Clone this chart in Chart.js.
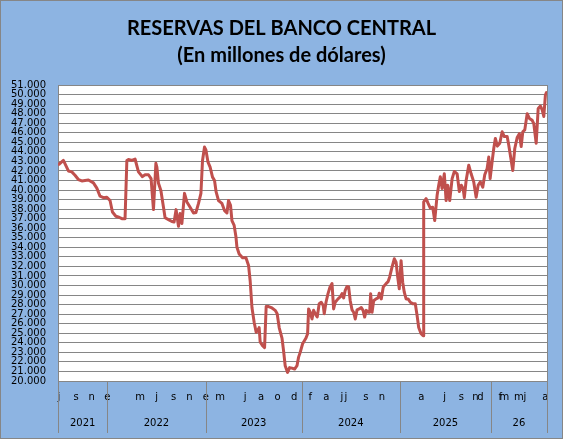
<!DOCTYPE html>
<html>
<head>
<meta charset="utf-8">
<script src="https://cdn.jsdelivr.net/npm/chart.js@4.4.1/dist/chart.umd.min.js"></script>
<style>
  html, body { margin: 0; padding: 0; background: #fff; }
  #wrap { width: 563px; height: 439px; }
</style>
</head>
<body>
<div id="wrap"><canvas id="reservas" width="563" height="439"></canvas></div>
<script>
'use strict';

// semana de observacion (eje de categorias de la planilla) y reservas en millones de USD
let semanas = [0, 0.5, 2.7, 5.2, 6.9, 8.5, 10.2, 11.9, 13.5, 15.2, 17.7, 19.4, 21, 22.7, 24.4, 26, 27.2, 28.9, 30.5, 31.9,
  33.5, 34.4, 35.2, 36.9, 38.5, 40.2, 42.2, 43.5, 45.2, 46.5, 47.7, 48.9, 49.4, 50.2, 51.4, 52.7, 53.5, 55.2, 56.9, 58,
  59, 60.2, 61, 61.9, 63.2, 64.4, 66, 67.7, 68.9, 70.2, 71.4, 72.2, 73.2, 73.9, 74.9, 76, 77.2, 78.2, 79, 80.2,
  81.9, 83.2, 84.4, 85.2, 86.2, 86.9, 88, 88.9, 89.4, 90.5, 92.2, 93.9, 95.2, 96, 96.9, 98, 99, 100.2, 100.5, 101,
  102.2, 103.2, 104, 105.2, 106.9, 108.5, 109.5, 110.5, 111.9, 112.7, 113.5, 114.7, 115.7, 116.9, 118.2, 119.4, 120.2, 121, 122.2, 123.9,
  124.7, 125.2, 126, 126.9, 127.7, 128.5, 129.5, 130.5, 131.5, 132.5, 133, 133.9, 134.9, 135.9, 136.9, 137.7, 138.5, 139.9, 141, 141.9,
  142.7, 143.5, 144.4, 145.2, 146, 146.9, 147.7, 148.5, 149.4, 150.5, 151.5, 152.4, 153.2, 154, 154.9, 155.7, 156.2, 156.9, 157.7, 158.9,
  159.9, 160.5, 161.5, 162.5, 163.9, 164.9, 165.7, 166.9, 168, 168.9, 169.7, 170.5, 171.4, 172.2, 173, 173.9, 174.9, 176, 177.2, 178.5,
  179.4, 180.2, 181.4, 182.4, 182.7, 183.9, 184.9, 186, 187.2, 188.2, 189.4, 190.2, 191, 191.9, 193, 193.9, 194.7, 195.7, 196.9, 198,
  199.4, 200.5, 201.5, 202.4, 203, 203.9, 205.2, 206.4, 207.7, 208.9, 209.9, 211, 212.2, 213.2, 214.4, 215.2, 215.9, 216.9, 217.7, 218.5,
  219.5, 220.7, 221.9, 223, 224.4, 225.2, 226, 227.2, 228.2, 229.4, 230.5, 231.4, 232.2, 233.2, 234.4, 235.5, 236.9, 237.7, 238.9, 239.9,
  241, 241.9, 242.7, 243.5, 244];
let reservas = [42700, 42700, 43100, 42000, 41900, 41550, 41100, 40950, 41000, 41050, 40750, 40200, 39350, 39200, 39250, 38900, 37700, 37250, 37150, 37000,
  37000, 43100, 43200, 43100, 43250, 41900, 41400, 41600, 41600, 41200, 37950, 42800, 42400, 40700, 39950, 38200, 37100, 36900, 36700, 36650,
  37950, 36200, 37550, 36500, 39650, 38750, 38200, 37600, 37650, 38600, 39650, 43100, 44500, 44200, 42950, 42400, 41350, 41000, 39800, 38900,
  38600, 37850, 37600, 38900, 38400, 36800, 36300, 35100, 34000, 33300, 32900, 32900, 32100, 30500, 27700, 26150, 25100, 25450, 25600, 24100,
  23700, 23500, 27800, 27800, 27650, 27400, 27050, 25600, 24500, 23150, 21600, 20900, 21400, 21350, 21250, 21600, 22500, 23000, 23900, 24500,
  24950, 27550, 27200, 26500, 27400, 27050, 26700, 28100, 28250, 27900, 27050, 28250, 29150, 29850, 30200, 27550, 28250, 28600, 28800, 29150,
  28700, 29500, 29900, 29850, 28400, 27450, 27200, 26500, 27450, 27550, 27700, 27400, 26700, 27400, 27200, 27200, 29150, 27200, 28400, 28600,
  28700, 29200, 28600, 29850, 30200, 30400, 30900, 31950, 32800, 32450, 30900, 29650, 32600, 30350, 29300, 28600, 28600, 28250, 28100, 28100,
  26850, 25600, 24950, 24750, 38750, 39100, 38600, 38100, 38200, 36800, 39450, 40500, 41400, 40150, 41700, 38900, 40500, 38900, 41200, 41950,
  41700, 39850, 40500, 40150, 39200, 41000, 42600, 41700, 40850, 39250, 40500, 40850, 40300, 41600, 42250, 43450, 41200, 43000, 44350, 45400,
  44600, 44900, 46100, 45600, 45600, 44700, 43650, 42050, 44350, 45500, 45900, 44550, 46100, 46300, 48000, 47500, 47300, 46950, 44900, 48550,
  48800, 48400, 47700, 49950, 50200];

// letras de los meses y donde caen en el eje
let mesPos = [0.5, 9, 16.8, 24.7, 41, 49.3, 57.7, 65.7, 73.8, 81, 93.5, 101.5, 109.7, 118, 126,
  134, 141.8, 143.8, 153.8, 161.8, 181.5, 193.2, 201.5, 208.5, 211, 221, 223, 230.2, 233.2, 243.5];
let mesLetra = ['j', 's', 'n', 'e', 'm', 'j', 's', 'n', 'e', 'm', 'j', 'a', 'o', 'd', 'f',
  'a', 'j', 'j', 's', 'n', 'a', 'j', 's', 'n', 'd', 'f', 'm', 'm', 'j', 'a'];

// cortes entre años
let anioLimites = [0, 24.7, 73.7, 121.8, 170.8, 216.3, 244.3];
let anioEtiquetas = ['2021', '2022', '2023', '2024', '2025', '26'];

let gris = '#868686';
let tickFont = { family: 'DejaVu Sans', size: 10 };

function miles(v) {
  return String(v).replace(/\B(?=(\d{3})+(?!\d))/g, '.');
}

let puntos = [];
for (let i = 0; i < semanas.length; i++) {
  puntos.push({ x: semanas[i], y: reservas[i] });
}

let anioCentros = [];
for (let i = 0; i < anioEtiquetas.length; i++) {
  anioCentros.push((anioLimites[i] + anioLimites[i + 1]) / 2);
}

const fondo = {
  id: 'fondo',
  beforeDraw(chart) {
    let ctx = chart.ctx;
    let a = chart.chartArea;
    ctx.save();
    ctx.fillStyle = '#8DB4E2';
    ctx.fillRect(0, 0, chart.width, chart.height);
    ctx.fillStyle = '#ffffff';
    ctx.fillRect(a.left, a.top, a.right - a.left, a.bottom - a.top);
    ctx.strokeStyle = gris;
    ctx.lineWidth = 1;
    ctx.strokeRect(0.5, 0.5, chart.width - 1, chart.height - 1);
    ctx.restore();
  },
  beforeDatasetsDraw(chart) {
    let ctx = chart.ctx;
    let a = chart.chartArea;
    let x = chart.scales.x;
    let x2 = chart.scales.x2;
    ctx.save();
    ctx.strokeStyle = gris;
    ctx.lineWidth = 1;
    ctx.strokeRect(Math.round(a.left) + 0.5, Math.round(a.top) + 0.5, Math.round(a.right - a.left), Math.round(a.bottom - a.top));
    for (let i = 0; i < anioLimites.length; i++) {
      let px = Math.round(x.getPixelForValue(anioLimites[i])) + 0.5;
      ctx.beginPath();
      ctx.moveTo(px, a.bottom);
      ctx.lineTo(px, x2.bottom - 1);
      ctx.stroke();
    }
    ctx.restore();
  }
};

Chart.defaults.color = '#000';

new Chart(document.getElementById('reservas'), {
  type: 'line',
  data: {
    datasets: [{
      data: puntos,
      borderColor: '#C0504D',
      borderWidth: 3,
      pointRadius: 0,
      tension: 0,
      borderJoinStyle: 'round',
      borderCapStyle: 'round'
    }]
  },
  options: {
    responsive: false,
    animation: false,
    layout: { padding: { left: 0, right: 0, top: 0, bottom: 5 } },
    plugins: {
      legend: { display: false },
      tooltip: { enabled: false },
      title: {
        display: true,
        text: ['RESERVAS DEL BANCO CENTRAL', '(En millones de dólares)'],
        color: '#000',
        font: { family: 'Lato', size: 20, weight: 'bold', lineHeight: 1.35 },
        padding: { top: 15, bottom: 16 }
      }
    },
    scales: {
      x: {
        type: 'linear',
        position: 'bottom',
        min: 0,
        max: 244.3,
        afterBuildTicks: function (scale) {
          scale.ticks = mesPos.map(function (v) { return { value: v }; });
        },
        afterFit: function (scale) { scale.height = 27; },
        ticks: {
          autoSkip: false,
          maxRotation: 0,
          padding: 10,
          font: tickFont,
          callback: function (v, i) { return mesLetra[i]; }
        },
        grid: { drawOnChartArea: false, drawTicks: false },
        border: { color: gris }
      },
      x2: {
        type: 'linear',
        position: 'bottom',
        min: 0,
        max: 244.3,
        afterBuildTicks: function (scale) {
          scale.ticks = anioCentros.map(function (v) { return { value: v }; });
        },
        afterFit: function (scale) { scale.height = 26; },
        ticks: {
          autoSkip: false,
          maxRotation: 0,
          padding: 9,
          font: tickFont,
          callback: function (v, i) { return anioEtiquetas[i]; }
        },
        grid: { display: false, drawTicks: false },
        border: { display: false }
      },
      y: {
        min: 20000,
        max: 51000,
        afterFit: function (scale) { scale.width = 58; },
        ticks: {
          stepSize: 1000,
          autoSkip: false,
          padding: 12,
          font: tickFont,
          callback: function (v) { return miles(v); }
        },
        grid: { color: gris, drawTicks: false },
        border: { color: gris }
      },
      // franja azul a la derecha del area de trazado
      margen: {
        type: 'linear',
        position: 'right',
        afterFit: function (scale) { scale.width = 16; },
        ticks: { display: false },
        grid: { display: false, drawTicks: false },
        border: { display: false }
      }
    }
  },
  plugins: [fondo]
});
</script>
</body>
</html>
